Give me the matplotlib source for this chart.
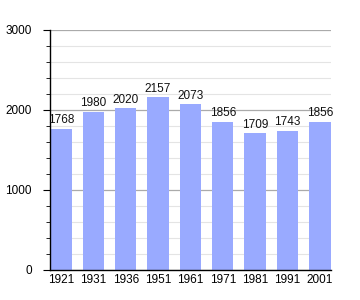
import numpy as np
import matplotlib.pyplot as plt
from matplotlib.ticker import MultipleLocator

plt.rcParams["font.family"] = ["Liberation Sans", "DejaVu Sans"]

years = ["1921", "1931", "1936", "1951", "1961", "1971", "1981", "1991", "2001"]
population = [1768, 1980, 2020, 2157, 2073, 1856, 1709, 1743, 1856]

fig = plt.figure(figsize=(3.6, 3.0), dpi=100)
ax = fig.add_axes([0.139, 0.1, 0.78, 0.8])

x = np.arange(len(years))
ax.bar(x, population, width=0.66, color="#99aaff", zorder=2)
for xi, v in zip(x, population):
    ax.text(xi, v + 30, str(v), ha="center", va="bottom", fontsize=8.5, color="#111111", zorder=3)

ax.set_xlim(-0.34, len(years) - 1 + 0.34)
ax.set_ylim(0, 3000)
ax.set_xticks(x)
ax.set_xticklabels(years)
ax.yaxis.set_major_locator(MultipleLocator(1000))
ax.yaxis.set_minor_locator(MultipleLocator(200))
ax.grid(axis="y", which="major", color="#aaaaaa", linewidth=0.9, zorder=0)
ax.grid(axis="y", which="minor", color="#e4e4e4", linewidth=0.8, zorder=0)
ax.set_axisbelow(True)

for s in ["top", "right"]:
    ax.spines[s].set_visible(False)
ax.spines["left"].set_linewidth(1)
ax.spines["bottom"].set_linewidth(1)
ax.tick_params(axis="x", length=0, labelsize=8.5, pad=3)
ax.tick_params(axis="y", which="major", length=5, labelsize=8.5, pad=8)
ax.tick_params(axis="y", which="minor", length=3)

fig.savefig("out.png")
